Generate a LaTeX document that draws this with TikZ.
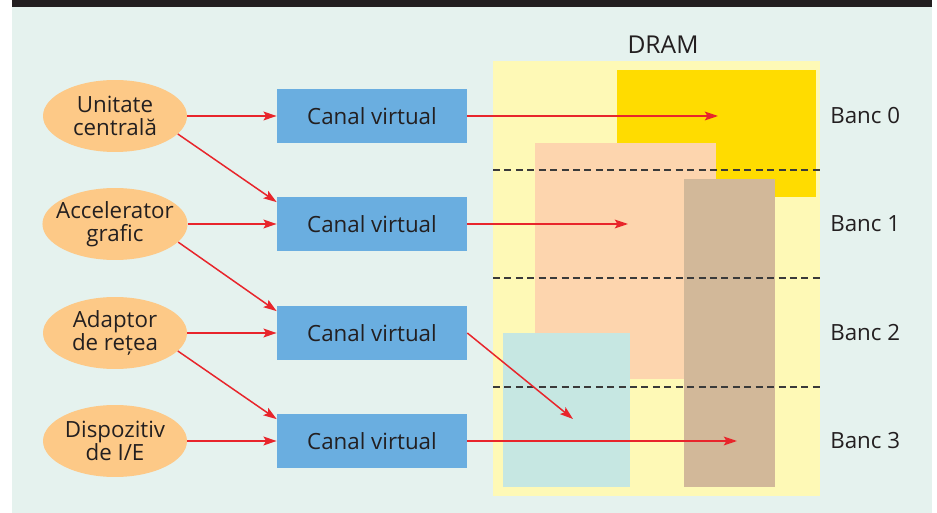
\documentclass[tikz,border=0pt]{standalone}
\usepackage{fontspec}
\setmainfont{Open Sans}
\usetikzlibrary{shapes.geometric,arrows.meta}
\definecolor{panelbg}{HTML}{E5F2EE}
\definecolor{inktext}{HTML}{231F20}
\definecolor{srcfill}{HTML}{FDC987}
\definecolor{chfill}{HTML}{6AAEE0}
\definecolor{linkred}{HTML}{E8252B}
\definecolor{dashgray}{HTML}{3A3A3A}
\definecolor{dramfill}{HTML}{FEF9B6}
\definecolor{bankgold}{HTML}{FFDC00}
\definecolor{bankpeach}{HTML}{FDD5AE}
\definecolor{banktan}{HTML}{D2B899}
\definecolor{bankcyan}{HTML}{C6E7E2}
\begin{document}
\begin{tikzpicture}[x=0.02cm, y=0.02cm]
	\tikzstyle{every node}+=[inner sep=0pt, text=inktext, font=\fontsize{12.7}{12.8}\selectfont]
	\tikzstyle{source}=[ellipse, fill=srcfill, inner xsep=-0.15cm, minimum width=2.88cm, minimum height=1.44cm, align=center]
	\tikzstyle{channel}=[rectangle, fill=chfill, minimum width=3.8cm, minimum height=1.1cm]
	\tikzstyle{link}=[draw=linkred, line width=0.85pt, -{Stealth[length=7.5pt,width=5pt,inset=1.5pt]}]
	\tikzstyle{bankline}=[draw=dashgray, line width=0.7pt, dash pattern=on 4pt off 2.5pt]
	\useasboundingbox (0,0) rectangle (937,-513);
	\fill [panelbg] (12,-7) rectangle (932,-513);
	\fill [inktext] (12,0) rectangle (932,-7);
	% DRAM banks
	\fill [dramfill] (493,-61) rectangle (820,-496);
	\fill [bankgold] (617,-70) rectangle (816,-197);
	\fill [bankpeach] (535,-143) rectangle (716,-379);
	\fill [banktan] (684,-179) rectangle (775,-487);
	\fill [bankcyan] (503,-333) rectangle (630,-487);
	\draw [bankline] (493,-170) -- (820,-170);
	\draw [bankline] (493,-278) -- (820,-278);
	\draw [bankline] (493,-387) -- (820,-387);
	\draw (663,-45) node [font=\fontsize{14}{14}\selectfont] (dram) {DRAM};
	\draw (830,-116) node [anchor=west] (l0) {Banc 0};
	\draw (830,-224) node [anchor=west] (l1) {Banc 1};
	\draw (830,-333) node [anchor=west] (l2) {Banc 2};
	\draw (830,-441) node [anchor=west] (l3) {Banc 3};
	\coordinate (b0) at (718,-116);
	\coordinate (b1) at (628,-224);
	\coordinate (b2) at (573,-419);
	\coordinate (b3) at (737,-441);
	% sources
	\draw (115,-116) node [source] (cpu) {Unitate\\centrală};
	\draw (115,-224) node [source] (gpu) {Accelerator\\grafic};
	\draw (115,-333) node [source] (net) {Adaptor\\de rețea};
	\draw (115,-441) node [source] (io) {Dispozitiv\\de I/E};
	% channels
	\draw (372,-116) node [channel] (c0) {Canal virtual};
	\draw (372,-224) node [channel] (c1) {Canal virtual};
	\draw (372,-333) node [channel] (c2) {Canal virtual};
	\draw (372,-441) node [channel] (c3) {Canal virtual};
	% links
	\draw [link] (cpu.east) -- (c0.west);
	\draw [link] (gpu.east) -- (c1.west);
	\draw [link] (net.east) -- (c2.west);
	\draw [link] (io.east) -- (c3.west);
	\draw [link] (cpu.-16) -- ([yshift=-3.4pt]c1.north west);
	\draw [link] (gpu.-16) -- ([yshift=-3.4pt]c2.north west);
	\draw [link] (net.-16) -- ([yshift=-3.4pt]c3.north west);
	\draw [link] (c0.east) -- (b0);
	\draw [link] (c1.east) -- (b1);
	\draw [link] (c2.east) -- (b2);
	\draw [link] (c3.east) -- (b3);
\end{tikzpicture}
\end{document}
